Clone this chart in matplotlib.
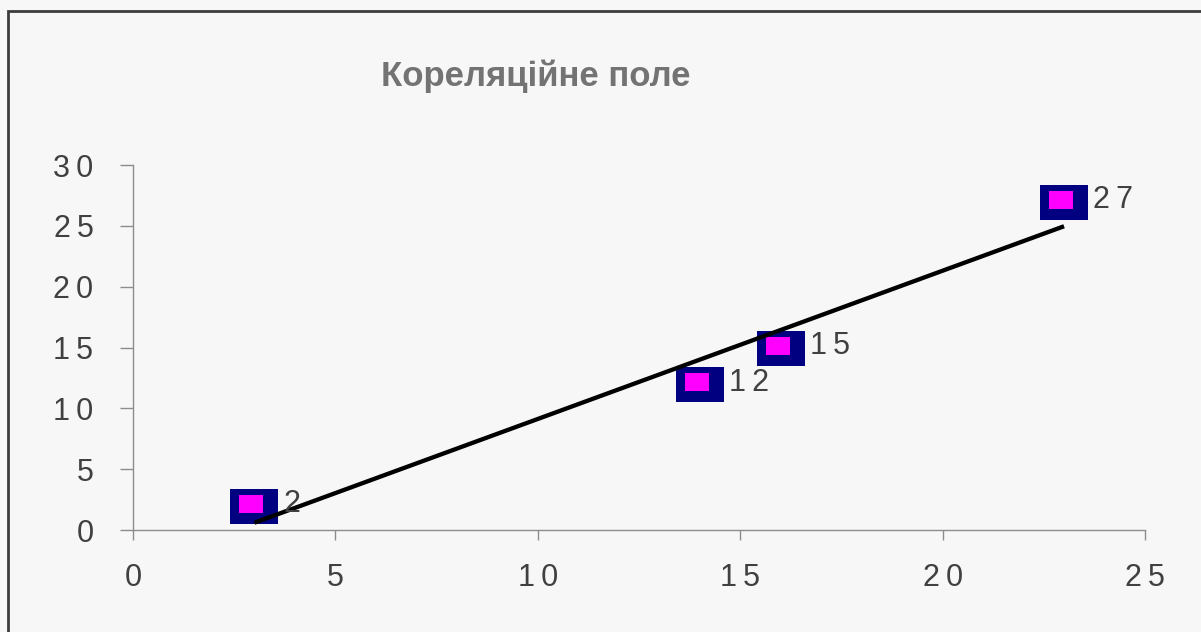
import numpy as np
import matplotlib
matplotlib.use("Agg")
import matplotlib.pyplot as plt
from matplotlib.path import Path
from matplotlib.patches import Rectangle

# Data
x_vals = [3, 14, 16, 23]
y_vals = [2, 12, 15, 27]
point_labels = ["2", "12", "15", "27"]
x_ticks = [0, 5, 10, 15, 20, 25]
y_ticks = [0, 5, 10, 15, 20, 25, 30]
title = "Кореляційне поле"

FAM = ["Liberation Sans", "DejaVu Sans"]
plt.rcParams["font.family"] = FAM
SP = "\u2009"

def spaced(s):
    return SP.join(str(s))

W, H = 1201, 632
fig = plt.figure(figsize=(W / 100, H / 100), dpi=100)
fig.patch.set_facecolor("#f7f7f7")

# outer border (top and left visible)
fig.add_artist(Rectangle((8 / W, -0.1), 1.2, 1 - 11 / H + 0.1, transform=fig.transFigure,
                         fill=False, edgecolor="#3c3c3c", linewidth=2.0))

ax = fig.add_axes([133 / W, 1 - 530 / H, (1145 - 133) / W, (530 - 165) / H])
ax.set_facecolor("#f7f7f7")
ax.set_xlim(0, 25)
ax.set_ylim(0, 30)
for s in ["top", "right"]:
    ax.spines[s].set_visible(False)
for s in ["left", "bottom"]:
    ax.spines[s].set_color("#8c8c8c")
    ax.spines[s].set_linewidth(1.0)

ax.set_xticks(x_ticks)
ax.set_xticklabels([spaced(v) for v in x_ticks])
ax.set_yticks(y_ticks)
ax.set_yticklabels([spaced(v) for v in y_ticks])
ax.tick_params(axis="x", direction="out", length=7, width=1, color="#8c8c8c",
               pad=17, labelsize=22, labelcolor="#404040")
ax.tick_params(axis="y", direction="out", length=9.5, width=1, color="#8c8c8c",
               pad=19, labelsize=22, labelcolor="#404040")

# markers: navy box with offset magenta inner box
outer = Path([(-24, -17.5), (24, -17.5), (24, 17.5), (-24, 17.5), (-24, -17.5)],
             [Path.MOVETO, Path.LINETO, Path.LINETO, Path.LINETO, Path.CLOSEPOLY])
inner = Path([(-15.5, -6.5), (8.5, -6.5), (8.5, 11.5), (-15.5, 11.5), (-15.5, -6.5)],
             [Path.MOVETO, Path.LINETO, Path.LINETO, Path.LINETO, Path.CLOSEPOLY])
ax.plot(x_vals, y_vals, linestyle="none", marker=outer, markersize=2 * 24 * 0.72,
        markerfacecolor="#000080", markeredgewidth=0, zorder=3, clip_on=False)
ax.plot(x_vals, y_vals, linestyle="none", marker=inner, markersize=2 * 15.5 * 0.72,
        markerfacecolor="#ff00ff", markeredgewidth=0, zorder=4, clip_on=False)

# linear trend line
k, b = np.polyfit(x_vals, y_vals, 1)
xl = np.array([min(x_vals), max(x_vals)])
ax.plot(xl, k * xl + b, color="black", linewidth=3.1, zorder=5, solid_capstyle="butt")

for xv, yv, lab in zip(x_vals, y_vals, point_labels):
    ax.annotate(spaced(lab), (xv, yv), xytext=(21, 1), textcoords="offset points",
                ha="left", va="center", fontsize=22, color="#404040", zorder=6)

fig.text(536 / W, 1 - 76 / H, title, ha="center", va="center", fontsize=25,
         fontweight="bold", color="#737373")

fig.savefig("out.png", dpi=100, facecolor=fig.get_facecolor())
